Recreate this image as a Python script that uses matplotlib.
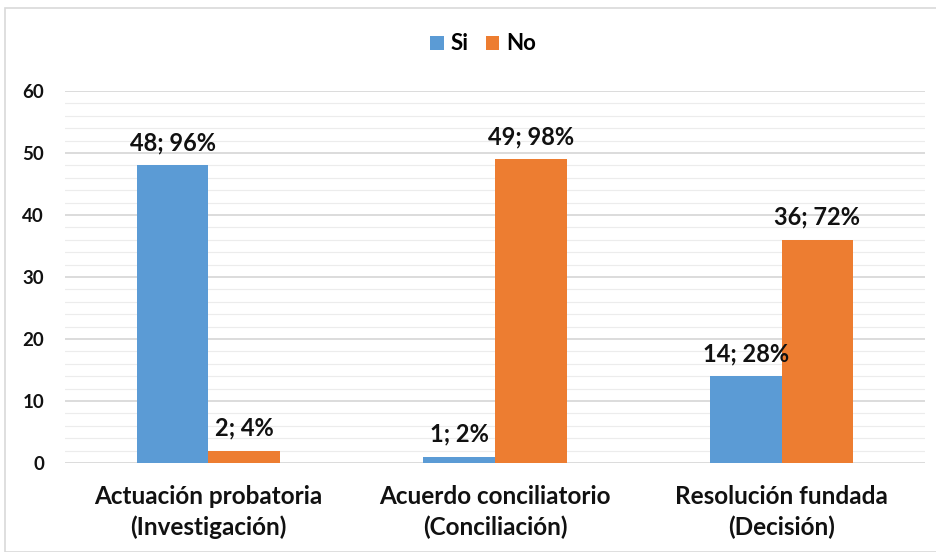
import matplotlib.pyplot as plt
import numpy as np
from matplotlib.patches import Rectangle

plt.rcParams['font.family'] = ['Lato', 'DejaVu Sans']
plt.rcParams['font.weight'] = 'bold'

categorias = ['Actuación probatoria\n(Investigación)',
              'Acuerdo conciliatorio\n(Conciliación)',
              'Resolución fundada\n(Decisión)']
si = [48, 1, 14]
no = [2, 49, 36]
si_pct = [96, 2, 28]
no_pct = [4, 98, 72]

azul = '#5B9BD5'
naranja = '#ED7D31'

fig = plt.figure(figsize=(9.37, 5.52), dpi=100)
ax = fig.add_axes([65/937, 89/552, 860/937, 372/552])

x = np.arange(len(categorias))
w = 0.25
b1 = ax.bar(x - w/2, si, w, color=azul, label='Si', zorder=3)
b2 = ax.bar(x + w/2, no, w, color=naranja, label='No', zorder=3)

for barras, vals, pcts in [(b1, si, si_pct), (b2, no, no_pct)]:
    for r, v, p in zip(barras, vals, pcts):
        ax.annotate(f'{v}; {p}%', (r.get_x() + r.get_width()/2, r.get_height()),
                    xytext=(0, 8), textcoords='offset points', ha='center', va='bottom',
                    fontsize=17, fontweight='bold', color='#111111')

ax.set_ylim(0, 60)
ax.set_xlim(-0.5, 2.5)
ax.set_yticks(range(0, 61, 10))
ax.set_yticks(range(0, 61, 2), minor=True)
ax.set_xticks(x)
ax.set_xticklabels(categorias, fontsize=17.5, fontweight='bold', color='#111111',
                   linespacing=1.35)
ax.tick_params(axis='y', labelsize=13.5, labelcolor='#111111', length=0, pad=15)
ax.tick_params(axis='y', which='minor', length=0)
ax.tick_params(axis='x', length=0, pad=16)
ax.grid(axis='y', which='major', color='#d9d9d9', lw=1.3, zorder=0)
ax.grid(axis='y', which='minor', color='#ececec', lw=0.8, zorder=0)
for s in ax.spines.values():
    s.set_visible(False)

ax.legend(loc='center', bbox_to_anchor=(483/937, 1 - 44/552), bbox_transform=fig.transFigure,
          ncol=2, frameon=False, fontsize=16, handlelength=0.6, handleheight=0.6,
          handletextpad=0.3, columnspacing=0.8)

fig.patches.append(Rectangle((5/937, 0), 1, 1 - 8/552, transform=fig.transFigure,
                             fill=False, edgecolor='#d9d9d9', lw=1.2))

fig.savefig('out.png', dpi=100)
